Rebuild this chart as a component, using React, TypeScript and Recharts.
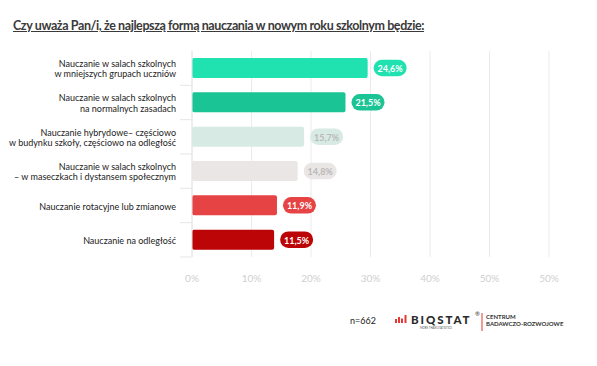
import React from "react";
import { BarChart, Bar, XAxis, YAxis, CartesianGrid, Cell, LabelList } from "recharts";

const title = "Czy uważa Pan/i, że najlepszą formą nauczania w nowym roku szkolnym będzie:";
const categories = [
  "Nauczanie w salach szkolnych\nw mniejszych grupach uczniów",
  "Nauczanie w salach szkolnych\nna normalnych zasadach",
  "Nauczanie hybrydowe– częściowo\nw budynku szkoły, częściowo na odległość",
  "Nauczanie w salach szkolnych\n– w maseczkach i dystansem społecznym",
  "Nauczanie rotacyjne lub zmianowe",
  "Nauczanie na odległość",
];
const values = [24.6, 21.5, 15.7, 14.8, 11.9, 11.5];
const barColors = ["#1FE2B0", "#1BC494", "#D7EAE3", "#EAE6E5", "#E64345", "#BC0506"];
const badgeTextColors = ["#ffffff", "#ffffff", "#B9B9B9", "#B9B9B9", "#ffffff", "#ffffff"];
const tickLabels = ["0%", "10%", "20%", "30%", "40%", "50%", "50%"];
const sampleNote = "n=662";

const axisMax = 50;
const gridStep = axisMax / (tickLabels.length - 1);
const tickPositions = tickLabels.map((_, i) => i * gridStep);

const data = categories.map((c, i) => ({ name: c, value: values[i] }));

const FONT = "Lato, 'Open Sans', sans-serif";

const YTick = (props: any) => {
  const { y, payload } = props;
  const lines = String(payload.value).split("\n");
  const lh = 10.5;
  const startY = y - ((lines.length - 1) * lh) / 2;
  const band = 34.33;
  return (
    <g>
      <text x={176} y={startY} textAnchor="end" fontFamily={FONT} fontSize={9} fill="#222" dominantBaseline="central">
        {lines.map((l, i) => (
          <tspan key={i} x={176} y={startY + i * lh}>
            {l}
          </tspan>
        ))}
      </text>
      <line x1={180} x2={192} y1={y + band / 2} y2={y + band / 2} stroke="#E6E6E6" strokeWidth={1} />
    </g>
  );
};

const Badge = (props: any) => {
  const { x, y, width, height, value, index } = props;
  const bx = x + width + 6;
  const cy = y + height / 2;
  const w = 33;
  const h = 16.5;
  const label = String(value).replace(".", ",") + "%";
  return (
    <g>
      <rect x={bx} y={cy - h / 2} width={w} height={h} rx={8.25} ry={8.25} fill={barColors[index]} />
      <text
        x={bx + w / 2}
        y={cy + 0.5}
        textAnchor="middle"
        dominantBaseline="central"
        fontFamily={FONT}
        fontWeight={700}
        fontSize={9}
        fill={badgeTextColors[index]}
      >
        {label}
      </text>
    </g>
  );
};

export default function App() {
  return (
    <div style={{ position: "absolute", left: 0, top: 0, width: 597, height: 366, background: "#fff" }}>
      <div
        style={{
          position: "absolute",
          left: 13,
          top: 18,
          fontFamily: FONT,
          fontWeight: 700,
          fontSize: 12.5,
          letterSpacing: -0.4,
          color: "#3A3A3A",
          textDecoration: "underline",
          whiteSpace: "nowrap",
        }}
      >
        {title}
      </div>
      <BarChart
        width={597}
        height={366}
        data={data}
        layout="vertical"
        margin={{ top: 51, right: 48, bottom: 79, left: 12 }}
        barCategoryGap={7}
      >
        <CartesianGrid horizontal={false} vertical stroke="#EBEBEB" strokeWidth={1} />
        <XAxis
          type="number"
          domain={[0, axisMax]}
          ticks={tickPositions}
          tickFormatter={(v: number, i: number) => tickLabels[i]}
          axisLine={false}
          tickLine={false}
          height={30}
          tick={{ fontFamily: FONT, fontSize: 10, fill: "#CFCFCF" }}
          tickMargin={12}
          interval={0}
        />
        <YAxis
          type="category"
          dataKey="name"
          width={180}
          axisLine={{ stroke: "#E6E6E6" }}
          tickLine={false}
          tick={<YTick />}
          interval={0}
        />
        <Bar dataKey="value" barSize={20} radius={2} isAnimationActive={false}>
          {data.map((d, i) => (
            <Cell key={i} fill={barColors[i]} />
          ))}
          <LabelList dataKey="value" content={<Badge />} />
        </Bar>
      </BarChart>
      <svg width={597} height={366} style={{ position: "absolute", left: 0, top: 0, pointerEvents: "none" }}>
        <text x={350} y={324} fontFamily={FONT} fontSize={9} fill="#222">
          {sampleNote}
        </text>
        <rect x={395} y={319} width={2} height={4} fill="#E53935" />
        <rect x={398} y={317} width={2} height={6} fill="#E53935" />
        <rect x={401} y={318.5} width={2} height={4.5} fill="#E53935" />
        <rect x={404.5} y={315} width={2} height={8} fill="#E53935" />
        <text x={411} y={324} fontFamily={FONT} fontWeight={900} fontSize={11.5} letterSpacing={1.9} fill="#2B2B2B">
          BIQSTAT
        </text>
        <text x={420} y={329} fontFamily={FONT} fontSize={2.8} fill="#555">
          MORE THAN STATISTICS
        </text>
        <text x={475} y={316} fontFamily={FONT} fontSize={6} fill="#333">
          ®
        </text>
        <line x1={482} x2={482} y1={313} y2={331} stroke="#E53935" strokeWidth={1} />
        <text x={486} y={319} fontFamily={FONT} fontSize={6} fontWeight={700} fill="#333">
          CENTRUM
        </text>
        <text x={486} y={326} fontFamily={FONT} fontSize={6} fontWeight={700} fill="#333">
          BADAWCZO-ROZWOJOWE
        </text>
      </svg>
    </div>
  );
}
